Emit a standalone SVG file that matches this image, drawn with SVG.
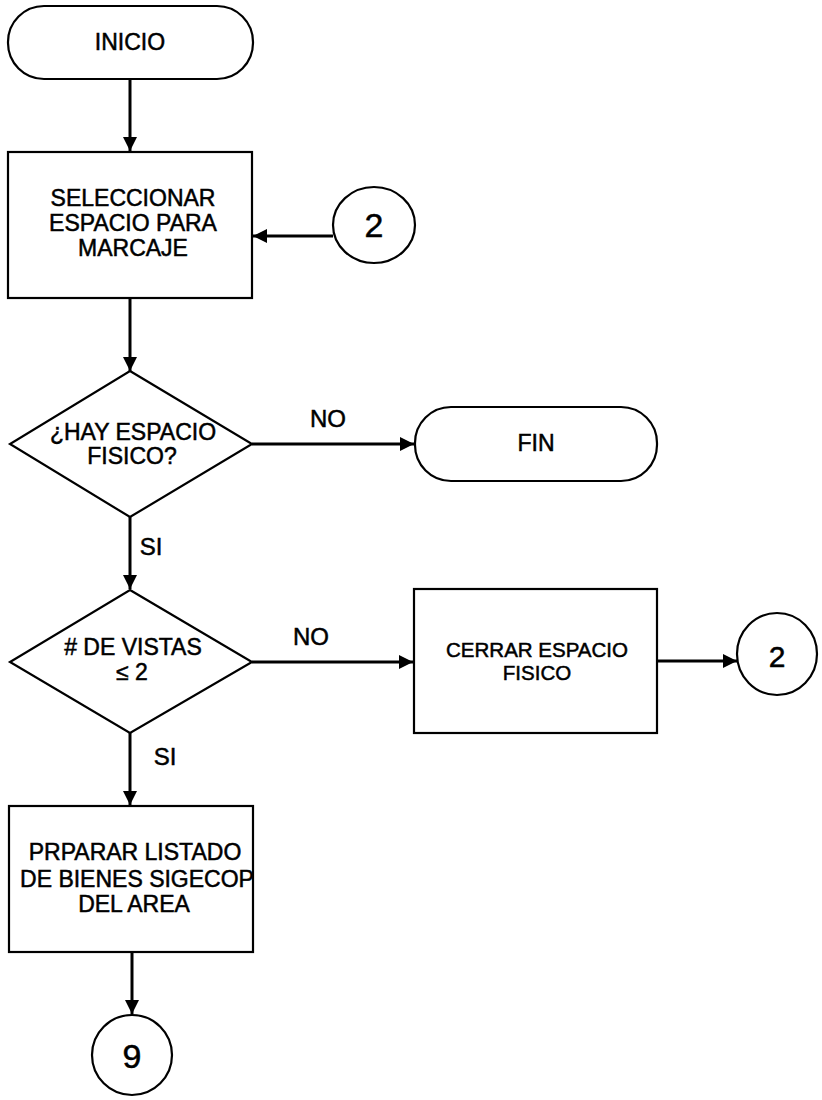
<svg xmlns="http://www.w3.org/2000/svg" width="822" height="1100" viewBox="0 0 822 1100">
<style>
.s{fill:#fff;stroke:#000;stroke-width:2.2}
.c{fill:none;stroke:#000;stroke-width:3}
text{font-family:"Liberation Sans",Arial,sans-serif;fill:#000;stroke:#000;stroke-width:0.5;text-anchor:middle}
.t{font-size:23px}
.t2{font-size:20.5px}
.l{font-size:24px}
.n{font-size:34px}
</style>
<defs>
<marker id="a" viewBox="0 0 14 14" refX="14" refY="7" markerWidth="14" markerHeight="14" markerUnits="userSpaceOnUse" orient="auto">
<path d="M0,0 L14,7 L0,14 Z" fill="#000"/>
</marker>
</defs>
<g id="connectors">
<line class="c" x1="130" y1="79" x2="130" y2="151" marker-end="url(#a)"/>
<line class="c" x1="333" y1="236" x2="253" y2="236" marker-end="url(#a)"/>
<line class="c" x1="130" y1="298" x2="130" y2="371" marker-end="url(#a)"/>
<line class="c" x1="252" y1="444" x2="414" y2="444" marker-end="url(#a)"/>
<line class="c" x1="130" y1="517" x2="130" y2="589" marker-end="url(#a)"/>
<line class="c" x1="252" y1="662" x2="413" y2="662" marker-end="url(#a)"/>
<line class="c" x1="657" y1="661" x2="737" y2="661" marker-end="url(#a)"/>
<line class="c" x1="130" y1="733" x2="130" y2="805" marker-end="url(#a)"/>
<line class="c" x1="132" y1="952" x2="132" y2="1014" marker-end="url(#a)"/>
<text class="l" x="328" y="427">NO</text>
<text class="l" x="151" y="555">SI</text>
<text class="l" x="311" y="645">NO</text>
<text class="l" x="165" y="765">SI</text>
</g>
<g id="inicio">
<rect class="s" x="8" y="6" width="245" height="73" rx="36" ry="36"/>
<text class="t" x="130" y="50">INICIO</text>
</g>
<g id="seleccionar">
<rect class="s" x="8" y="152" width="244" height="146"/>
<text class="t" x="133" y="206">SELECCIONAR</text>
<text class="t" x="133" y="231">ESPACIO PARA</text>
<text class="t" x="133" y="256">MARCAJE</text>
</g>
<g id="conector2a">
<ellipse class="s" cx="374" cy="225" rx="41" ry="38"/>
<text class="n" x="374" y="237">2</text>
</g>
<g id="hayespacio">
<polygon class="s" points="130,371 252,444 130,517 10,444"/>
<text class="t" x="133" y="440">¿HAY ESPACIO</text>
<text class="t" x="132" y="464">FISICO?</text>
</g>
<g id="fin">
<rect class="s" x="415" y="407" width="242" height="74" rx="36" ry="36"/>
<text class="t" x="536" y="451">FIN</text>
</g>
<g id="vistas">
<polygon class="s" points="130,590 252,662 130,733 10,662"/>
<text class="t" x="133" y="655"># DE VISTAS</text>
<text class="t" x="132" y="680">≤ 2</text>
</g>
<g id="cerrar">
<rect class="s" x="414" y="589" width="243" height="144"/>
<text class="t2" x="537" y="657">CERRAR ESPACIO</text>
<text class="t2" x="537" y="680">FISICO</text>
</g>
<g id="conector2b">
<ellipse class="s" cx="777" cy="654" rx="40" ry="41"/>
<text class="n" x="777" y="667" style="font-size:30px">2</text>
</g>
<g id="preparar">
<rect class="s" x="9" y="806" width="244" height="146"/>
<text class="t" x="135" y="860">PRPARAR LISTADO</text>
<text class="t" x="137" y="887">DE BIENES SIGECOP</text>
<text class="t" x="134" y="912">DEL AREA</text>
</g>
<g id="conector9">
<ellipse class="s" cx="132" cy="1055" rx="40" ry="40"/>
<text class="n" x="132" y="1068">9</text>
</g>
</svg>
